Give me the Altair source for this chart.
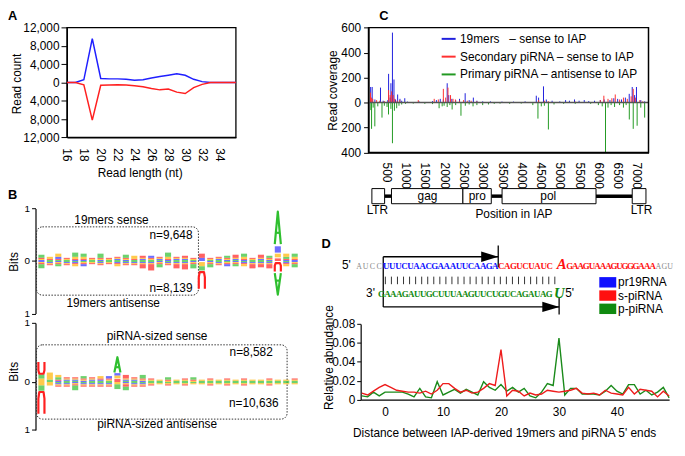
import altair as alt
import pandas as pd

SANS = "Liberation Sans"
SERIF = "Liberation Serif"

# ======================= DATA =======================
# Panel A - read length distribution
READ_LEN = list(range(16, 37))
SENSE_COUNT = [0, 0, 600, 9600, 900, 800, 800, 700, 500, 600, 1000,
               1300, 1600, 1900, 1600, 700, 200, 0, 0, 0, 0]
ANTISENSE_COUNT = [0, 0, 500, 8200, 600, 550, 500, 550, 700, 900, 1300,
                   1600, 1400, 2100, 2400, 1100, 400, 0, 0, 0, 0]
A_X_TICKS = [16, 18, 20, 22, 24, 26, 28, 30, 32, 34]
A_Y_TICKS = [-12000, -8000, -4000, 0, 4000, 8000, 12000]

# Panel B - sequence logos; per column heights of A,C,G,U in units of 0.02 bits
LOGO_UNIT = 0.02
B1_SENSE = ["3111", "1021", "1231", "1011", "4121", "3121", "1011", "4111", "1011", "1111",
            "3111", "1031", "1112", "1211", "1111", "4121", "1111", "1112", "1011", "0304",
            "1011", "1111", "2111", "1113", "3121", "1011", "1113", "2111", "0000", "2131", "3121"]
B1_ANTI = ["4111", "1111", "2111", "1111", "1121", "1211", "1011", "1111", "1011", "1121",
           "1111", "1111", "1114", "1116", "3111", "1111", "1114", "1115", "4111", "0000",
           "3111", "1111", "1211", "2111", "1121", "1114", "1113", "1114", "0000", "1121", "3111"]
B2_SENSE = ["0000", "2060", "2121", "1111", "1111", "2111", "1111", "1121", "1211", "0000",
            "1113", "1111", "3111", "1011", "1010", "2011", "1010", "1011", "2011", "1010",
            "1011", "1010", "1011", "1010", "1011", "1010", "1010", "1011", "1010", "1010", "1011"]
B2_ANTI = ["0000", "0030", "1111", "1111", "4111", "1111", "1111", "1111", "1111", "4020",
           "3112", "1111", "1111", "1011", "1010", "1011", "1010", "1011", "1010", "1010",
           "1011", "1010", "1011", "1010", "1011", "1010", "1010", "1011", "1010", "1010", "1010"]
# (column, letter, bits from, bits to)
B1_BIG = [(20, "G", -0.02, -0.10), (20, "A", -0.10, -0.18), (20, "U", -0.21, -0.53),
          (29, "U", 0.0, 0.05), (29, "G", 0.07, 0.14), (29, "C", 0.16, 0.28), (29, "A", 0.32, 0.94),
          (29, "U", -0.04, -0.20), (29, "A", -0.23, -0.64)]
B2_BIG = [(1, "G", 0.0, 0.06), (1, "A", 0.06, 0.13), (1, "U", 0.14, 0.34),
          (1, "G", 0.0, -0.06), (1, "A", -0.06, -0.15), (1, "U", -0.17, -0.54),
          (10, "U", 0.0, 0.05), (10, "G", 0.06, 0.11), (10, "C", 0.11, 0.15), (10, "A", 0.16, 0.42)]
B1_TEXT = [("19mers sense", 9.3, 0.78, "center"), ("n=9,648", 18.9, 0.49, "right"),
           ("n=8,139", 18.9, -0.52, "right"), ("19mers antisense", 9.5, -0.80, "center")]
B2_TEXT = [("piRNA-sized sense", 14.7, 0.78, "center"), ("n=8,582", 28.4, 0.51, "right"),
           ("n=10,636", 29.1, -0.36, "right"), ("piRNA-sized antisense", 14.7, -0.72, "center")]
B1_BOX = (0.42, 19.6, -0.65, 0.65)
B2_BOX = (0.42, 30.1, -0.63, 0.63)
LETTER_COLORS = {"A": "#2fbf2f", "C": "#3030ff", "G": "#ffb400", "U": "#ff2020"}

# Panel C - coverage along IAP
C_SERIES = ["19mers\u00a0\u00a0\u00a0\u2013 sense to IAP",
            "Secondary piRNA \u2013 sense to IAP",
            "Primary piRNA \u2013 antisense to IAP"]
C_COLORS = ["#2020dd", "#ff3030", "#229922"]
C_BLUE_POS = [95, 135, 205, 350, 420, 540, 560, 600, 620, 660, 700, 740, 795, 855, 900, 980, 1050,
              1350, 1700, 1800, 1900, 1980, 2080, 2120, 2200, 2300, 2400, 2546, 2650, 2758, 2850,
              3000, 3200, 3500, 3800, 4100, 4390, 4450, 4577, 4650, 4800, 5000, 5150, 5250, 5381,
              5500, 5634, 5750, 5900, 6050, 6150, 6300, 6400, 6500, 6600, 6700, 6800, 6878, 6940,
              6988, 7100, 7200]
C_BLUE_VAL = [125, 125, 25, 120, 15, 20, 230, 40, 155, 560, 185, 25, 65, 30, 15, 35, 8,
              10, 12, 20, 30, 25, 155, 60, 30, 20, 30, 75, 20, 40, 15,
              10, 10, 8, 8, 10, 55, 40, 130, 25, 15, 10, 20, 15, 25,
              15, 20, 12, 15, 20, 25, 20, 35, 30, 25, 40, 70, 125, 60,
              125, 20, 10]
C_RED_POS = [90, 115, 150, 250, 330, 450, 560, 600, 640, 680, 720, 780, 850, 1330, 1743, 1850,
             1980, 2040, 2100, 2166, 2230, 2293, 2400, 2505, 2600, 2700, 2850, 4450, 4600, 4700,
             5400, 6050, 6142, 6250, 6350, 6438, 6550, 6650, 6750, 6850, 6904, 6960, 7074, 7150]
C_RED_VAL = [80, 40, 30, 20, 15, 12, 100, 60, 90, 60, 30, 15, 20, 20, 30, 25,
             110, 40, 120, 60, 30, 25, 15, 20, 15, 15, 10, 20, 15, 12,
             8, 20, 55, 30, 35, 65, 25, 40, 30, 50, 110, 40, 20, 10]
C_GREEN_POS = [100, 119, 160, 203, 280, 389, 450, 520, 558, 620, 660, 711, 770, 830, 900, 1000,
               1200, 1500, 1700, 1870, 1950, 2000, 2080, 2150, 2208, 2300, 2437, 2550, 2650,
               2750, 2850, 3000, 3150, 3300, 3450, 3700, 4000, 4300, 4433, 4520, 4600, 4704,
               4850, 5100, 5400, 5800, 6000, 6100, 6185, 6250, 6330, 6420, 6550, 6650, 6720,
               6802, 6904, 7005, 7100, 7200]
C_GREEN_VAL = [-60, -210, -40, -190, -30, -120, -25, -35, -95, -50, -325, -65, -45, -25, -15, -10,
               -8, -10, -12, -45, -30, -25, -35, -20, -55, -20, -105, -25, -15,
               -30, -20, -20, -15, -10, -8, -10, -8, -20, -128, -30, -25, -215,
               -15, -10, -10, -10, -20, -30, -400, -40, -20, -35, -20, -40, -20,
               -135, -210, -185, -40, -120]
C_X_TICKS = [500, 1000, 1500, 2000, 2500, 3000, 3500, 4000, 4500, 5000, 5500, 6000, 6500, 7000]
C_Y_TICKS = [-400, -200, 0, 200, 400, 600]
GENE_BOXES = [("LTR", 127, 457), ("gag", 635, 2487), ("pro", 2487, 3223),
              ("pol", 3503, 5939), ("LTR", 6878, 7234)]
GENE_LINKS = [(457, 635), (3223, 3503), (5939, 6878)]

# Panel D - sequences and distance distribution
SEQ_TOP_GRAY_L = "AUCC"
SEQ_TOP_BLUE = "UUUCUAACGAAAUUCAAGA"
SEQ_TOP_RED1 = "CAGUCUAUC"
SEQ_TOP_RED_BIG = "A"
SEQ_TOP_RED2 = "GAAGUAAAGUGGGAAA"
SEQ_TOP_GRAY_R = "AGU"
SEQ_BOTTOM_GREEN = "GAAAGAUUGCUUUAAGUUCUGUCAGAUAG"
SEQ_BOTTOM_BIG = "U"
D_LEGEND = ["pr19RNA", "s-piRNA", "p-piRNA"]
D_LEGEND_COLORS = ["#1010ff", "#ff1010", "#108a10"]
DIST = list(range(-4, 50))
S_PIRNA = [0.007, 0.005, 0.009, 0.013, 0.016, 0.013, 0.010, 0.009, 0.008, 0.008, 0.007, 0.009,
           0.006, 0.010, 0.017, 0.017, 0.012, 0.008, 0.010, 0.007, 0.008, 0.012, 0.017, 0.015,
           0.053, 0.004, 0.010, 0.009, 0.004, 0.007, 0.005, 0.006, 0.010, 0.009, 0.008, 0.009,
           0.010, 0.012, 0.007, 0.006, 0.007, 0.005, 0.010, 0.007, 0.006, 0.005, 0.013, 0.006,
           0.011, 0.010, 0.009, 0.003, 0.009, 0.004]
P_PIRNA = [0.004, 0.003, 0.008, 0.004, 0.008, 0.008, 0.008, 0.008, 0.006, 0.003, 0.012, 0.003,
           0.002, 0.019, 0.005, 0.008, 0.011, 0.007, 0.011, 0.008, 0.005, 0.019, 0.013, 0.010,
           0.016, 0.009, 0.013, 0.008, 0.012, 0.004, 0.002, 0.008, 0.017, 0.015, 0.065, 0.005,
           0.012, 0.012, 0.006, 0.006, 0.006, 0.005, 0.009, 0.015, 0.009, 0.006, 0.016, 0.016,
           0.006, 0.010, 0.005, 0.008, 0.013, 0.002]
D_X_TICKS = [0, 10, 20, 30, 40]
D_Y_TICKS = [0, 0.02, 0.04, 0.06, 0.08]

# ======================= LAYOUT HELPERS =======================
W, H = 677, 436
SX = (W - 1) / 680.0
SY = (H - 1) / 454.0


def X(r):
    return (r - 3) * SX


def Y(r):
    return (r - 2) * SY


def xs(domain, r0, r1):
    return alt.Scale(domain=domain, range=[X(r0), X(r1)], nice=False, zero=False)


def ys(domain, rbot, rtop):
    return alt.Scale(domain=domain, range=[Y(rbot), Y(rtop)], nice=False, zero=False)


def left_title(text, axis_x, cx, cy):
    return dict(title=text, titleX=X(cx) - X(axis_x), titleY=Y(cy), titleAngle=270,
                titleBaseline="middle", titleAlign="center")


# ======================= PANEL LABELS =======================
lab_df = pd.DataFrame({"t": ["A", "B", "C", "D"], "x": [3, 3, 381, 322], "y": [12, 201, 12, 253]})
labels = alt.Chart(lab_df).mark_text(align="left", baseline="alphabetic", fontSize=13,
                                     fontWeight="bold", font=SANS, color="black").encode(
    x=alt.X("x:Q", scale=xs([0, 100], 0, 100), axis=None),
    y=alt.Y("y:Q", scale=ys([100, 0], 100, 0), axis=None),
    text="t:N")

# ======================= PANEL A =======================
a_sense = pd.DataFrame({"len": READ_LEN, "count": SENSE_COUNT})
a_anti = pd.DataFrame({"len": READ_LEN, "count": [-v for v in ANTISENSE_COUNT]})
a_frame = pd.DataFrame({"len": [16], "len2": [36], "count": [-12000], "count2": [12000]})
aX = alt.X("len:Q", scale=xs([16, 36], 63, 235),
           axis=alt.Axis(orient="bottom", offset=Y(136) - H, values=A_X_TICKS, labelAngle=90,
                         tickSize=0, labelPadding=11 * SY, title="Read length (nt)",
                         titleX=X(137), titleY=Y(177) - Y(136), titleBaseline="alphabetic"))
aY = alt.Y("count:Q", scale=ys([-12000, 12000], 136, 20),
           axis=alt.Axis(orient="left", offset=-X(63), values=A_Y_TICKS,
                         labelExpr="format(abs(datum.value), ',')", tickSize=6, labelPadding=2,
                         **left_title("Read count", 63, 12, 79)))
panelA = alt.layer(
    alt.Chart(a_frame).mark_rect(fillOpacity=0, stroke="black", strokeWidth=1.3).encode(
        x=aX, x2="len2:Q", y=aY, y2="count2:Q"),
    alt.Chart(a_sense).mark_line(color="#1f1fff", strokeWidth=1.5).encode(x=aX, y=aY),
    alt.Chart(a_anti).mark_line(color="#ff2020", strokeWidth=1.5).encode(x=aX, y=aY),
)


# ======================= PANEL B =======================
def glyph_paths(col, letter, ya, yb):
    w = 0.36
    x0, x1 = col - w, col + w
    h = yb - ya
    if letter == "U":
        return [[(x0, yb), (x0, ya + 0.3 * h), (x0 + 0.3 * w, ya), (x1 - 0.3 * w, ya),
                 (x1, ya + 0.3 * h), (x1, yb)]]
    t = 0.35
    return [[(x0, ya), (col, yb), (x1, ya)],
            [(x0 + t * (col - x0), ya + t * h), (x1 - t * (x1 - col), ya + t * h)]]


def logo_panel(sense, anti, big, texts, box, ydom, rbot, rtop, yticks, title_y):
    rect_rows, line_rows = [], []
    for sign, cols in ((1, sense), (-1, anti)):
        for i, s in enumerate(cols):
            col = i + 1
            items = sorted([(int(d) * LOGO_UNIT, L) for d, L in zip(s, "ACGU") if d != "0"])
            base = 0.0
            for hgt, L in items:
                rect_rows.append({"x": col - 0.36, "x2": col + 0.36, "y": sign * base,
                                  "y2": sign * (base + hgt), "c": LETTER_COLORS[L]})
                base += hgt
    gid = 0
    for col, L, ya, yb in big:
        if L in "AU" and abs(yb - ya) >= 0.12:
            for path in glyph_paths(col, L, ya, yb):
                for k, (px, py) in enumerate(path):
                    line_rows.append({"gid": gid, "k": k, "x": px, "y": py, "c": LETTER_COLORS[L]})
                gid += 1
        else:
            rect_rows.append({"x": col - 0.36, "x2": col + 0.36, "y": ya, "y2": yb,
                              "c": LETTER_COLORS[L]})
    bX = alt.X("x:Q", scale=xs([0.3, 31.6], 31, 300), axis=None)
    bY = alt.Y("y:Q", scale=ys(ydom, rbot, rtop),
               axis=alt.Axis(orient="left", offset=-X(31), values=yticks,
                             labelExpr="datum.value == 0 ? '0' : '1'", tickSize=4, labelPadding=2,
                             labelFontSize=10, **left_title("Bits", 31, 9, title_y)))
    box_df = pd.DataFrame({"x": [box[0]], "x2": [box[1]], "y": [box[2]], "y2": [box[3]]})
    txt = pd.DataFrame(texts, columns=["t", "x", "y", "al"])
    layers = [
        alt.Chart(box_df).mark_rect(fillOpacity=0, stroke="#333333", strokeWidth=1,
                                    strokeDash=[1.5, 1.5], cornerRadius=6).encode(
            x=bX, x2="x2:Q", y=bY, y2="y2:Q"),
        alt.Chart(pd.DataFrame(rect_rows)).mark_rect(opacity=0.7).encode(
            x=bX, x2="x2:Q", y=bY, y2="y2:Q", color=alt.Color("c:N", scale=None)),
        alt.Chart(pd.DataFrame(line_rows)).mark_line(strokeWidth=2.2, strokeJoin="round").encode(
            x=bX, y=bY, detail="gid:N", order="k:Q", color=alt.Color("c:N", scale=None)),
    ]
    for al in ("center", "right"):
        layers.append(
            alt.Chart(txt[txt["al"] == al]).mark_text(align=al, baseline="middle", fontSize=12,
                                                   font=SANS, color="black").encode(
                x=bX, y=bY, text="t:N"))
    return alt.layer(*layers)


panelB1 = logo_panel(B1_SENSE, B1_ANTI, B1_BIG, B1_TEXT, B1_BOX, [-1, 1], 322, 211, [-1, 0, 1], 267)
panelB2 = logo_panel(B2_SENSE, B2_ANTI, B2_BIG, B2_TEXT, B2_BOX, [-0.815, 1], 445, 332,
                     [-0.815, 0, 1], 383)

# ======================= PANEL C =======================
c_df = pd.DataFrame({
    "pos": C_BLUE_POS + C_RED_POS + C_GREEN_POS,
    "val": C_BLUE_VAL + C_RED_VAL + C_GREEN_VAL,
    "series": [C_SERIES[0]] * len(C_BLUE_POS) + [C_SERIES[1]] * len(C_RED_POS)
    + [C_SERIES[2]] * len(C_GREEN_POS),
})
c_df["zero"] = 0
cX = alt.X("pos:Q", scale=xs([40, 7300], 370, 655),
           axis=alt.Axis(orient="bottom", offset=Y(152) - H, values=C_X_TICKS, labelAngle=90,
                         format="d", tickSize=0, labelPadding=10 * SY, title=""))
cY = alt.Y("val:Q", scale=ys([-400, 600], 152, 20),
           axis=alt.Axis(orient="left", offset=-X(370), values=C_Y_TICKS,
                         labelExpr="format(abs(datum.value), 'd')", tickSize=5, labelPadding=3,
                         **left_title("Read coverage", 370, 333, 86)))
c_frame = pd.DataFrame({"pos": [40], "pos2": [7300], "val": [-400], "val2": [600]})
c_zero = pd.DataFrame({"pos": [40], "pos2": [7300], "val": [0]})
panelC = alt.layer(
    alt.Chart(c_df).mark_rule(strokeWidth=1).encode(
        x=cX, y=cY, y2="zero:Q",
        color=alt.Color("series:N", scale=alt.Scale(domain=C_SERIES, range=C_COLORS),
                        legend=alt.Legend(orient="none", legendX=X(443), legendY=Y(23),
                                          title=None, symbolType="stroke", symbolStrokeWidth=2,
                                          symbolSize=200, labelFontSize=12, labelFont=SANS,
                                          labelOffset=3, rowPadding=3, padding=0,
                                          labelLimit=300))),
    alt.Chart(c_zero).mark_rule(color="#555555", strokeWidth=1.5).encode(x=cX, x2="pos2:Q", y=cY),
    alt.Chart(c_frame).mark_rect(fillOpacity=0, stroke="black", strokeWidth=1.5).encode(
        x=cX, x2="pos2:Q", y=cY, y2="val2:Q"),
)

# gene structure under panel C
gX = alt.X("s:Q", scale=xs([40, 7300], 370, 655), axis=None)
gY = alt.Y("y:Q", scale=alt.Scale(domain=[180, 230], range=[Y(180), Y(230)], nice=False, zero=False),
           axis=None)
g_links = pd.DataFrame({"s": [a for a, b in GENE_LINKS], "e": [b for a, b in GENE_LINKS],
                        "y": [198] * len(GENE_LINKS)})
g_boxes = pd.DataFrame({"name": [n for n, a, b in GENE_BOXES], "s": [a for n, a, b in GENE_BOXES],
                        "e": [b for n, a, b in GENE_BOXES]})
g_boxes["y"] = 190
g_boxes["y2"] = 206
g_inner = pd.DataFrame({"t": ["gag", "pro", "pol"], "s": [1568, 2860, 4700], "y": [198, 198, 198]})
g_outer = pd.DataFrame({"t": ["LTR", "LTR", "Position in IAP"], "s": [270, 7118, 3810],
                        "y": [213, 213, 217]})
panelCgene = alt.layer(
    alt.Chart(g_links).mark_rule(color="black", strokeWidth=3.5).encode(x=gX, x2="e:Q", y=gY),
    alt.Chart(g_boxes).mark_rect(fill="white", stroke="black", strokeWidth=1).encode(
        x=gX, x2="e:Q", y=gY, y2="y2:Q"),
    alt.Chart(g_inner).mark_text(fontSize=12, font=SANS, baseline="middle", color="black").encode(
        x=gX, y=gY, text="t:N"),
    alt.Chart(g_outer).mark_text(fontSize=12, font=SANS, baseline="middle", color="black").encode(
        x=gX, y=gY, text="t:N"),
)


# ======================= PANEL D : sequence diagram =======================
def chars(seq, left, step):
    return [(ch, left + step * (j + 0.5)) for j, ch in enumerate(seq)]


seq_rows = []
for ch, xc in chars(SEQ_TOP_GRAY_L, -4.55, 1.1):
    seq_rows.append({"t": ch, "x": xc, "y": 274.5, "grp": "gray", "c": "#888888"})
for ch, xc in chars(SEQ_TOP_BLUE, 0, 1.0):
    seq_rows.append({"t": ch, "x": xc, "y": 274.5, "grp": "seq", "c": "#1010ff"})
for ch, xc in chars(SEQ_TOP_RED1, 19, 1.0):
    seq_rows.append({"t": ch, "x": xc, "y": 274.5, "grp": "seq", "c": "#ff1010"})
seq_rows.append({"t": SEQ_TOP_RED_BIG, "x": 29.5, "y": 275, "grp": "big", "c": "#ff1010"})
for ch, xc in chars(SEQ_TOP_RED2, 30.36, 0.913):
    seq_rows.append({"t": ch, "x": xc, "y": 274.5, "grp": "seq", "c": "#ff1010"})
for ch, xc in chars(SEQ_TOP_GRAY_R, 44.97, 0.974):
    seq_rows.append({"t": ch, "x": xc, "y": 274.5, "grp": "gray", "c": "#888888"})
for ch, xc in chars(SEQ_BOTTOM_GREEN, -0.81, 0.99):
    seq_rows.append({"t": ch, "x": xc, "y": 305, "grp": "seq", "c": "#108a10"})
seq_rows.append({"t": SEQ_BOTTOM_BIG, "x": 29.1, "y": 305.5, "grp": "big", "c": "#108a10"})
seq_df = pd.DataFrame(seq_rows)

dsX = alt.X("x:Q", scale=xs([-3.73, 47.24], 362, 676), axis=None)
dsY = alt.Y("y:Q", scale=alt.Scale(domain=[240, 330], range=[Y(240), Y(330)], nice=False, zero=False),
            axis=None)
ends_df = pd.DataFrame({"t": ["5'", "3'", "5'"], "x": [-6.1, -2.1, 30.8], "y": [274.5, 305, 305]})
pair_df = pd.DataFrame({"x": [k + 0.35 for k in range(29)]})
pair_df["y"] = 283
pair_df["y2"] = 291
arrow_lines = pd.DataFrame({"x": [0, 0, 19, 0, 29.06], "x2": [19, 29.06, 19, 0, 29.06],
                            "y": [262, 315, 250, 262, 305], "y2": [262, 315, 273, 315, 323]})
arrow_heads = pd.DataFrame({"x": [17.6, 27.7], "y": [262, 315]})
leg_df = pd.DataFrame({"t": D_LEGEND, "c": D_LEGEND_COLORS, "x": [35.7] * 3, "x2": [38.5] * 3,
                       "tx": [38.8] * 3, "y": [283.5, 297.5, 311.5], "y2": [294.5, 308.5, 322.5],
                       "ty": [289, 303, 317]})

panelDseq = alt.layer(
    alt.Chart(arrow_lines).mark_rule(color="black", strokeWidth=1.3).encode(
        x=dsX, x2="x2:Q", y=dsY, y2="y2:Q"),
    alt.Chart(arrow_heads).mark_point(shape="M-1,-0.6L1,0L-1,0.6Z", filled=True, size=300,
                                      color="black", opacity=1).encode(x=dsX, y=dsY),
    alt.Chart(pair_df).mark_rule(color="#333333", strokeWidth=1).encode(x=dsX, y=dsY, y2="y2:Q"),
    alt.Chart(seq_df[seq_df["grp"] == "seq"]).mark_text(
        font=SERIF, fontWeight="bold", fontSize=9, baseline="alphabetic").encode(
        x=dsX, y=dsY, text="t:N", color=alt.Color("c:N", scale=None)),
    alt.Chart(seq_df[seq_df["grp"] == "gray"]).mark_text(
        font=SERIF, fontSize=8, baseline="alphabetic").encode(
        x=dsX, y=dsY, text="t:N", color=alt.Color("c:N", scale=None)),
    alt.Chart(seq_df[seq_df["grp"] == "big"]).mark_text(
        font=SERIF, fontWeight="bold", fontStyle="italic", fontSize=15, baseline="alphabetic").encode(
        x=dsX, y=dsY, text="t:N", color=alt.Color("c:N", scale=None)),
    alt.Chart(ends_df).mark_text(font=SANS, fontSize=12, baseline="alphabetic", color="black").encode(
        x=dsX, y=dsY, text="t:N"),
    alt.Chart(leg_df).mark_rect().encode(x=dsX, x2="x2:Q", y=dsY, y2="y2:Q",
                                         color=alt.Color("c:N", scale=None)),
    alt.Chart(leg_df).mark_text(font=SANS, fontSize=12, align="left", baseline="middle",
                                color="black").encode(
        x=alt.X("tx:Q", scale=xs([-3.73, 47.24], 362, 676), axis=None),
        y=alt.Y("ty:Q", scale=alt.Scale(domain=[240, 330], range=[Y(240), Y(330)], nice=False,
                                        zero=False), axis=None),
        text="t:N"),
)

# ======================= PANEL D : distance plot =======================
d_red = pd.DataFrame({"d": DIST, "v": S_PIRNA})
d_green = pd.DataFrame({"d": DIST, "v": P_PIRNA})
dX = alt.X("d:Q", scale=xs([-4.2, 49], 362, 676),
           axis=alt.Axis(orient="bottom", offset=Y(413) - H, values=D_X_TICKS, tickSize=0,
                         labelPadding=7 * SY,
                         title="Distance between IAP-derived 19mers and piRNA 5' ends",
                         titleX=X(508), titleY=Y(452) - Y(413), titleBaseline="alphabetic"))
dY = alt.Y("v:Q", scale=ys([0, 0.08], 413, 333),
           axis=alt.Axis(orient="left", offset=-X(362), values=D_Y_TICKS,
                         labelExpr="datum.value == 0 ? '0' : format(datum.value, '.2f')",
                         tickSize=4, labelPadding=2,
                         **left_title("Relative abundance", 362, 329, 368)))
panelDline = alt.layer(
    alt.Chart(d_green).mark_line(color="#1a8a1a", strokeWidth=1.4).encode(x=dX, y=dY),
    alt.Chart(d_red).mark_line(color="#ee1c1c", strokeWidth=1.4).encode(x=dX, y=dY),
)

# ======================= ASSEMBLE =======================
chart = alt.layer(
    labels, panelA, panelB1, panelB2, panelC, panelCgene, panelDseq, panelDline
).resolve_scale(
    x="independent", y="independent", color="independent"
).properties(
    width=W, height=H, padding=0, autosize=alt.AutoSizeParams(type="none")
).configure_view(
    stroke="transparent"
).configure_axis(
    grid=False, labelFont=SANS, titleFont=SANS, labelFontSize=12, titleFontSize=12,
    titleFontWeight="normal", labelColor="black", titleColor="black", domainColor="black",
    tickColor="black", domainWidth=1.2
)

chart.save("out.html", embed_options={"renderer": "svg", "actions": False})
